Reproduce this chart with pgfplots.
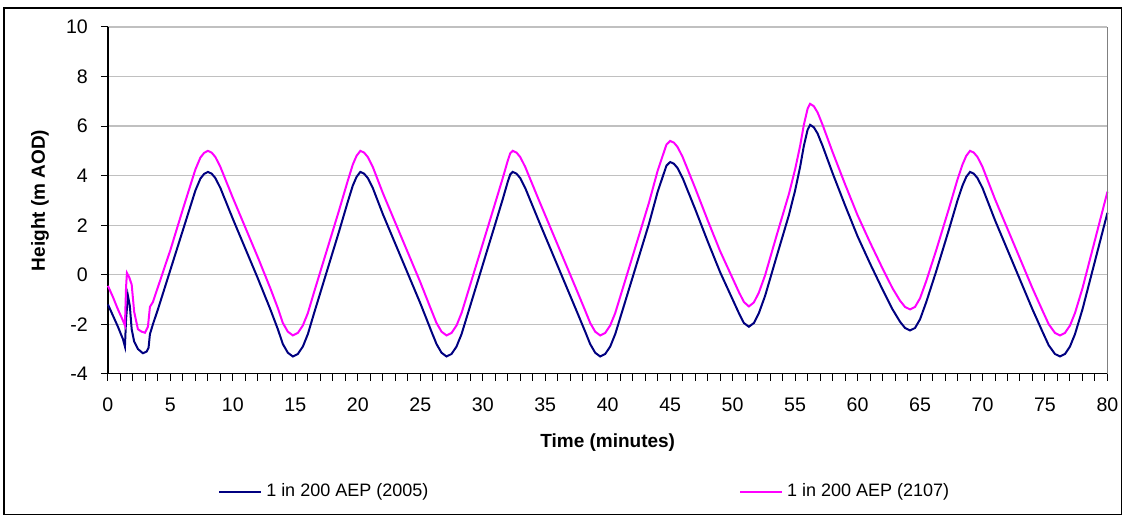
\documentclass[border=0pt]{standalone}
\usepackage{pgfplots}
\pgfplotsset{compat=1.18}
\usepackage{fontspec}
\setmainfont{Liberation Sans}

\definecolor{navyline}{RGB}{0,0,128}
\definecolor{magline}{RGB}{255,0,255}
\definecolor{gridgray}{RGB}{192,192,192}

% Water level series, time in minutes
\pgfplotstableread{
t h
0.0 -1.2
0.4 -1.65
0.8 -2.1
1.2 -2.6
1.36 -2.9
1.45 -1.8
1.6 -0.85
1.75 -1.25
1.9 -2.2
2.1 -2.7
2.4 -3.0
2.8 -3.17
3.1 -3.1
3.25 -2.95
3.36 -2.4
3.6 -2.0
4.0 -1.4
5.0 0.2
6.0 1.8
7.0 3.4
7.4 3.88
7.7 4.07
8.0 4.15
8.3 4.08
8.6 3.9
9.0 3.5
10 2.25
11 1.05
12 -0.15
13 -1.4
13.6 -2.2
14.0 -2.8
14.4 -3.15
14.8 -3.3
15.2 -3.2
15.6 -2.9
16.0 -2.4
16.5 -1.55
17.5 0.1
18.5 1.75
19.2 2.95
19.6 3.6
19.9 3.95
20.2 4.15
20.5 4.08
20.8 3.9
21.2 3.5
22 2.45
23 1.25
24 0.05
25 -1.15
25.9 -2.3
26.3 -2.8
26.7 -3.15
27.1 -3.3
27.5 -3.2
27.9 -2.9
28.3 -2.4
29 -1.25
30 0.4
31 2.05
31.6 3.05
32.0 3.75
32.2 4.05
32.4 4.15
32.7 4.08
33.0 3.9
33.4 3.5
34.5 2.15
35.5 0.95
36.5 -0.25
37.5 -1.45
38.2 -2.3
38.6 -2.8
39.0 -3.15
39.4 -3.3
39.8 -3.2
40.2 -2.9
40.6 -2.4
41.3 -1.25
42.3 0.4
43.3 2.05
44.0 3.35
44.4 3.95
44.7 4.4
45.0 4.55
45.3 4.48
45.6 4.3
46.0 3.9
47 2.65
48 1.35
49 0.1
50 -1.0
50.5 -1.55
50.9 -1.95
51.3 -2.1
51.7 -1.95
52.1 -1.55
52.6 -0.85
53.5 0.7
54.5 2.4
55.0 3.4
55.4 4.35
55.7 5.2
56.0 5.85
56.2 6.05
56.5 5.95
56.8 5.7
57.2 5.2
58 4.1
59 2.8
60 1.55
61 0.45
62 -0.6
62.8 -1.4
63.4 -1.9
63.8 -2.15
64.2 -2.25
64.6 -2.15
65.0 -1.8
65.5 -1.1
66.3 0.15
67.3 1.8
68.0 3.0
68.4 3.6
68.7 3.95
69.0 4.15
69.3 4.08
69.6 3.9
70.0 3.5
71 2.2
72 1.0
73 -0.2
74 -1.4
74.8 -2.3
75.3 -2.85
75.8 -3.2
76.2 -3.3
76.6 -3.2
77.0 -2.9
77.4 -2.4
78 -1.4
79 0.55
80 2.5
}\levelA

\pgfplotstableread{
t h
0.0 -0.45
0.4 -0.9
0.8 -1.4
1.2 -1.85
1.36 -2.05
1.45 -0.5
1.52 0.07
1.7 -0.1
1.9 -0.4
2.1 -1.5
2.4 -2.2
2.7 -2.3
2.96 -2.34
3.2 -2.1
3.36 -1.3
3.6 -1.1
4.0 -0.5
5.0 1.0
6.0 2.65
7.0 4.25
7.4 4.73
7.7 4.92
8.0 5.0
8.3 4.93
8.6 4.75
9.0 4.35
10 3.1
11 1.9
12 0.7
13 -0.55
13.6 -1.35
14.0 -1.95
14.4 -2.3
14.8 -2.45
15.2 -2.35
15.6 -2.05
16.0 -1.55
16.5 -0.7
17.5 0.95
18.5 2.6
19.2 3.8
19.6 4.45
19.9 4.8
20.2 5.0
20.5 4.93
20.8 4.75
21.2 4.35
22 3.3
23 2.1
24 0.9
25 -0.3
25.9 -1.45
26.3 -1.95
26.7 -2.3
27.1 -2.45
27.5 -2.35
27.9 -2.05
28.3 -1.55
29 -0.4
30 1.25
31 2.9
31.6 3.9
32.0 4.6
32.2 4.9
32.4 5.0
32.7 4.93
33.0 4.75
33.4 4.35
34.5 3.0
35.5 1.8
36.5 0.6
37.5 -0.6
38.2 -1.45
38.6 -1.95
39.0 -2.3
39.4 -2.45
39.8 -2.35
40.2 -2.05
40.6 -1.55
41.3 -0.4
42.3 1.25
43.3 2.9
44.0 4.2
44.4 4.8
44.7 5.25
45.0 5.4
45.3 5.33
45.6 5.15
46.0 4.75
47 3.5
48 2.2
49 0.95
50 -0.15
50.5 -0.7
50.9 -1.1
51.3 -1.28
51.7 -1.12
52.1 -0.72
52.6 -0.02
53.5 1.55
54.5 3.25
55.0 4.25
55.4 5.2
55.7 6.05
56.0 6.7
56.2 6.9
56.5 6.8
56.8 6.55
57.2 6.05
58 4.95
59 3.65
60 2.4
61 1.3
62 0.25
62.8 -0.55
63.4 -1.05
63.8 -1.3
64.2 -1.4
64.6 -1.3
65.0 -0.95
65.5 -0.25
66.3 1.0
67.3 2.65
68.0 3.85
68.4 4.45
68.7 4.8
69.0 5.0
69.3 4.93
69.6 4.75
70.0 4.35
71 3.05
72 1.85
73 0.65
74 -0.55
74.8 -1.45
75.3 -2.0
75.8 -2.35
76.2 -2.45
76.6 -2.35
77.0 -2.05
77.4 -1.55
78 -0.55
79 1.4
80 3.35
}\levelB

\begin{document}
\begin{tikzpicture}
\begin{axis}[
  at={(0,0)}, anchor=south west,
  scale only axis, width=500pt, height=173.5pt,
  xmin=0, xmax=80, ymin=-4, ymax=10,
  axis lines=left,
  axis line style={-, black, line width=0.6pt},
  xtick={0,5,...,80}, minor x tick num=4,
  ytick={-4,-2,...,10},
  tick align=outside,
  major tick length=3.5pt, minor tick length=3.5pt,
  tick style={black, line width=0.5pt},
  ymajorgrids,
  major grid style={gridgray, line width=0.6pt},
  /pgf/number format/assume math mode=true,
  ticklabel style={font=\fontsize{9.8}{11}\selectfont},
  xticklabel style={yshift=-5pt},
  yticklabel style={xshift=-3pt},
  xlabel={Time (minutes)},
  ylabel={Height (m AOD)},
  label style={font=\bfseries\fontsize{9.5}{11}\selectfont},
  xlabel style={at={(axis description cs:0.5,-0.199)}, anchor=center},
  ylabel style={at={(axis description cs:-0.068,0.5)}, anchor=center},
  legend columns=2,
  legend style={at={(axis description cs:0.11,-0.34)}, anchor=west,
    draw=none, fill=none, inner sep=0pt,
    font=\fontsize{9}{11}\selectfont,
    /tikz/every even column/.append style={column sep=153.5pt}},
  legend image code/.code={\draw[#1] (0pt,0pt) -- (21pt,0pt);},
  clip=false,
]
\addplot[navyline, line width=1pt] table[x=t, y=h] {\levelA};
\addlegendentry{1 in 200 AEP (2005)}
\addplot[magline, line width=1pt] table[x=t, y=h] {\levelB};
\addlegendentry{1 in 200 AEP (2107)}
\draw[gray, line width=0.6pt] (rel axis cs:1,0) -- (rel axis cs:1,1);
\end{axis}
\draw[black, line width=0.6pt] (-52pt,-70.5pt) rectangle (507pt,183pt);
\useasboundingbox (-54pt,-72pt) rectangle (508.5pt,187pt);
\end{tikzpicture}
\end{document}
